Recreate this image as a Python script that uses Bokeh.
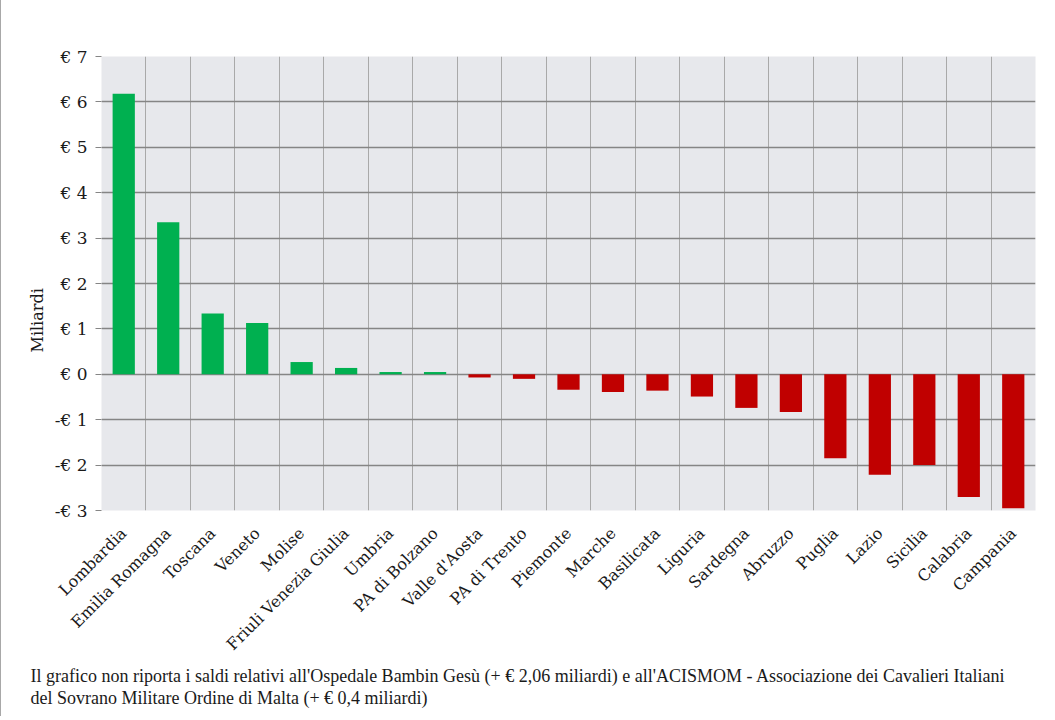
import math
from bokeh.plotting import figure
from bokeh.models import FixedTicker, Range1d, Title
from bokeh.embed import file_html
from bokeh.resources import INLINE

regions = ["Lombardia", "Emilia Romagna", "Toscana", "Veneto", "Molise",
           "Friuli Venezia Giulia", "Umbria", "PA di Bolzano", "Valle d'Aosta",
           "PA di Trento", "Piemonte", "Marche", "Basilicata", "Liguria",
           "Sardegna", "Abruzzo", "Puglia", "Lazio", "Sicilia", "Calabria",
           "Campania"]
saldi = [6.18, 3.35, 1.34, 1.13, 0.27, 0.14, 0.05, 0.05, -0.07, -0.10,
         -0.34, -0.39, -0.36, -0.49, -0.74, -0.83, -1.85, -2.21, -2.00,
         -2.70, -2.95]
y_ticks = [-3, -2, -1, 0, 1, 2, 3, 4, 5, 6, 7]
y_tick_labels = ["-€ 3", "-€ 2", "-€ 1", "€ 0", "€ 1", "€ 2", "€ 3",
                 "€ 4", "€ 5", "€ 6", "€ 7"]
y_label = "Miliardi"
note_lines = [
    "Il grafico non riporta i saldi relativi all'Ospedale Bambin Gesù (+ € 2,06 miliardi) e all'ACISMOM - Associazione dei Cavalieri Italiani",
    "del Sovrano Militare Ordine di Malta (+ € 0,4 miliardi)",
]

GREEN = "#00b050"
RED = "#c00000"

n = len(regions)
centers = [i + 0.5 for i in range(n)]
colors = [GREEN if v >= 0 else RED for v in saldi]

p = figure(width=1053, height=716, output_backend="svg", toolbar_location=None,
           x_range=Range1d(0, n), y_range=Range1d(-3, 7),
           min_border_left=100, min_border_right=19, min_border_top=56,
           min_border_bottom=206)
p.styles = {"border-left": "1px solid #a8a8a8"}
p.background_fill_color = "#e7e8ec"
p.border_fill_color = "white"
p.outline_line_color = None

p.vbar(x=centers, top=saldi, bottom=0, width=0.5, fill_color=colors,
       line_color=None)

# grids
p.xgrid.ticker = FixedTicker(ticks=list(range(n + 1)))
p.xgrid.grid_line_color = "#a9a9a9"
p.ygrid.ticker = FixedTicker(ticks=y_ticks)
p.ygrid.grid_line_color = "#858585"
p.ygrid.grid_line_width = 1.3

# y axis
p.yaxis.ticker = FixedTicker(ticks=y_ticks)
p.yaxis.major_label_overrides = dict(zip(y_ticks, y_tick_labels))
p.yaxis.axis_line_color = None
p.yaxis.major_tick_line_color = "#858585"
p.yaxis.major_tick_out = 6
p.yaxis.major_tick_in = 0
p.yaxis.minor_tick_line_color = None
p.yaxis.major_label_text_font = "DejaVu Serif"
p.yaxis.major_label_text_font_size = "17px"
p.yaxis.major_label_text_color = "#1a1a1a"
p.yaxis.major_label_standoff = 8

# x axis
p.xaxis.ticker = FixedTicker(ticks=centers)
p.xaxis.major_label_overrides = dict(zip(centers, regions))
p.xaxis.axis_line_color = None
p.xaxis.major_tick_line_color = None
p.xaxis.minor_tick_line_color = None
p.xaxis.major_label_orientation = math.pi / 4
p.xaxis.major_label_text_font = "DejaVu Serif"
p.xaxis.major_label_text_font_size = "16px"
p.xaxis.major_label_text_color = "#1a1a1a"
p.xaxis.major_label_standoff = 14

# y-axis title
p.add_layout(Title(text=y_label, align="left", offset=158,
                   text_font="DejaVu Serif", text_font_size="16px",
                   text_font_style="normal", text_color="#1a1a1a"), "left")

# footnote
for line in note_lines:
    p.add_layout(Title(text=line, align="left", offset=-71,
                       text_font="Liberation Serif", text_font_size="18px",
                       text_font_style="normal", text_color="#1a1a1a",
                       standoff=0), "below")

open("out.html", "w").write(file_html(p, INLINE))
